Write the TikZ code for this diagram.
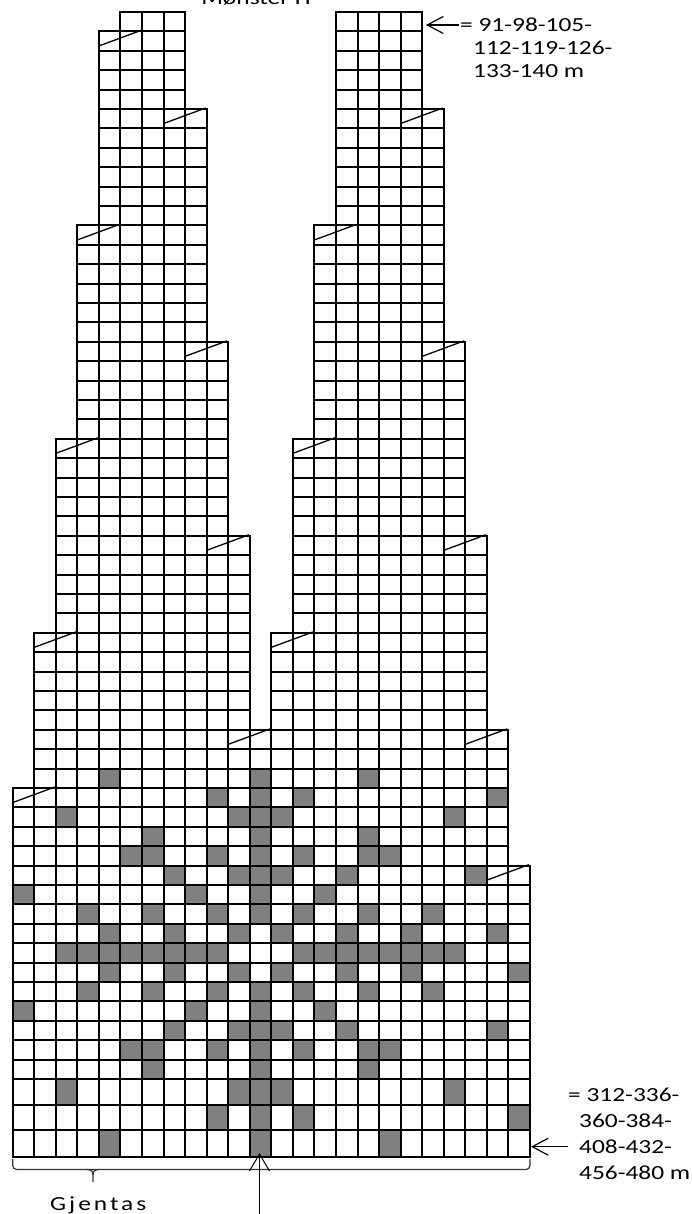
\documentclass[tikz,border=0pt]{standalone}
\usepackage{fontspec}
\setmainfont{Carlito}
\newfontfamily\labfont[FakeStretch=1.27]{Carlito}
\newfontfamily\gjfont[FakeStretch=1.27,LetterSpace=15]{Carlito}
\usetikzlibrary{arrows.meta}
\definecolor{cellgray}{HTML}{808080}
\begin{document}
\begin{tikzpicture}[x=1pt,y=-1pt,
  declare function={xl(\cc)=12.7+(\cc-1)*21.55;
                    yb(\rr)=(\rr<1.5)?1157:((\rr<2.5)?1130:((\rr<3.5)?1105:(1079-(\rr-4)*19.4)));},
  cellbox/.style={draw=black,line width=2pt},
  diagline/.style={draw=black,line width=1.3pt},
  lab/.style={inner sep=0pt,anchor=base west,font=\labfont\fontsize{20}{24}\selectfont},
  pointer/.style={draw=black,line width=1.2pt,-{Straight Barb[length=16pt,width=17pt]}},
  bracestyle/.style={draw=black!80,line width=1.2pt}]
\useasboundingbox (0,0) rectangle (691,1214);
% gray pattern cells
\foreach \rr/\cl in {1/{5,12,18},2/{10,12,14,24},3/{3,11,12,13,21},4/{7,12,17},
  5/{6,7,10,12,14,17,18},6/{8,11,12,13,16,23},7/{1,9,12,15},8/{4,7,10,12,14,17,20},
  9/{5,8,11,13,16,19,24},10/{3,4,5,6,7,8,9,10,14,15,16,17,18,19,20,21},
  11/{5,8,11,13,16,19,23},12/{4,7,10,12,14,17,20},13/{1,9,12,15},
  14/{8,11,12,13,16,22},15/{6,7,10,12,14,17,18},16/{7,12,17},
  17/{3,11,12,13,21},18/{10,12,14,23},19/{5,12,17}}{
  \foreach \cc in \cl {
    \fill[cellgray] ({xl(\cc)},{yb(\rr)}) rectangle ({xl(\cc+1)},{yb(\rr+1)});
  }
}
% grid cells
\foreach \ra/\rb/\ca/\cb in {1/14/1/24,15/18/1/23,19/21/2/23,
  22/26/2/11,22/26/13/22,27/31/3/11,27/31/14/22,32/36/3/10,32/36/14/21,
  37/41/4/10,37/41/15/21,42/47/4/9,42/47/15/20,48/53/5/9,48/53/16/20,
  54/57/5/8,54/57/16/19,58/58/6/8,58/58/16/19}{
  \foreach \rr in {\ra,...,\rb}{
    \foreach \cc in {\ca,...,\cb}{
      \draw[cellbox] ({xl(\cc)},{yb(\rr)}) rectangle ({xl(\cc+1)},{yb(\rr+1)});
    }
  }
}
% increase diagonals
\foreach \rr/\cc in {14/23,18/1,21/11,21/22,26/2,26/13,31/10,31/21,36/3,36/14,
  41/9,41/20,47/4,47/15,53/8,53/19,57/5}{
  \draw[diagline] ({xl(\cc)},{yb(\rr+1)+0.75*(yb(\rr)-yb(\rr+1))}) -- ({xl(\cc+2)-1},{yb(\rr+1)-1});
}
% title (cut at the top, as in the reference)
\node[lab,anchor=base] (title) at (256,4.5) {Mønster H};
% top label
\node[lab] (tl1) at (460,31.5) {= 91-98-105-};
\node[lab] (tl2) at (473,54.5) {112-119-126-};
\node[lab] (tl3) at (473,77.5) {133-140 m};
\coordinate (tlfrom) at (459,25);
\coordinate (tltip) at (426,25);
\draw[pointer] (tlfrom) -- (tltip);
% bottom right label
\node[lab] (bl1) at (568,1101.3) {= 312-336-};
\node[lab] (bl2) at (579,1127.3) {360-384-};
\node[lab] (bl3) at (579,1153.3) {408-432-};
\node[lab] (bl4) at (579,1179.3) {456-480 m};
\coordinate (brfrom) at (568,1146.7);
\coordinate (brtip) at (531,1146.7);
\draw[pointer] (brfrom) -- (brtip);
% brace
\draw[bracestyle,rounded corners=4pt] (12.7,1159) -- (12.7,1169.5) -- (530,1169.5) -- (530,1159);
\draw[bracestyle] (87,1169.5) .. controls (91,1169.5) and (93,1171) .. (93,1175) -- (93,1182);
\draw[bracestyle] (99,1169.5) .. controls (95,1169.5) and (93,1171) .. (93,1175);
\node[inner sep=0pt,anchor=base west,font=\gjfont\fontsize{20}{24}\selectfont] (gj) at (50,1210.7) {Gjentas};
% up arrow
\coordinate (upfrom) at (259.5,1214);
\coordinate (uptip) at (259.5,1153);
\draw[pointer,line width=1pt,-{Straight Barb[length=17pt,width=20pt]}] (upfrom) -- (uptip);
\end{tikzpicture}
\end{document}
